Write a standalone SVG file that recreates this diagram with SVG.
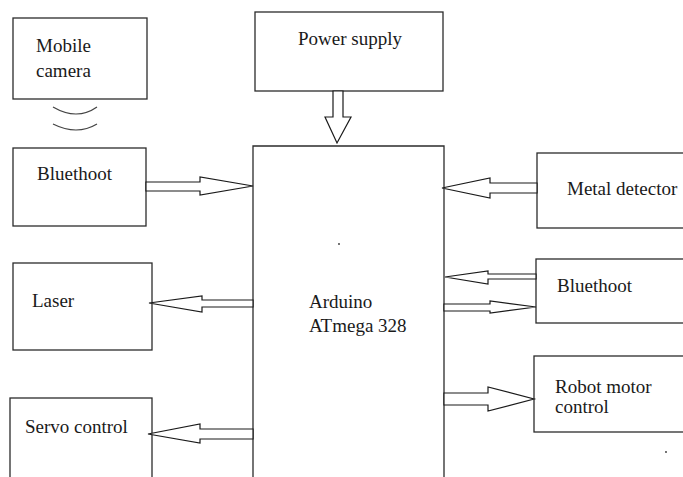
<svg xmlns="http://www.w3.org/2000/svg" width="683" height="477" viewBox="0 0 683 477">
<style>
.box{fill:#fff;stroke:#2b2b2b;stroke-width:1.3}
.t{font-family:'Liberation Serif','Times New Roman',serif;font-size:19px;fill:#1a1a1a}
.arr{fill:#fff;stroke:#1a1a1a;stroke-width:1.2;stroke-linejoin:miter}
.wave{fill:none;stroke:#444;stroke-width:1.2}
</style>
<rect width="683" height="477" fill="#fff"/>
<g id="mobile-camera">
<rect class="box" x="13" y="18" width="134" height="81"/>
<text class="t" x="36" y="52">Mobile</text>
<text class="t" x="36" y="77">camera</text>
</g>
<g id="bluetooth-left">
<rect class="box" x="13" y="148" width="133" height="78"/>
<text class="t" x="37" y="180">Bluethoot</text>
</g>
<g id="power-supply">
<rect class="box" x="255" y="12" width="188" height="79"/>
<text class="t" x="298" y="45">Power supply</text>
</g>
<g id="arduino">
<path class="box" d="M253,490 V146 H444 V490"/>
<text class="t" x="309" y="308">Arduino</text>
<text class="t" x="309" y="332">ATmega 328</text>
<circle cx="339" cy="244" r="0.9" fill="#333"/>
</g>
<g id="metal-detector">
<rect class="box" x="537" y="153" width="170" height="75"/>
<text class="t" x="567" y="195">Metal detector</text>
</g>
<g id="bluetooth-right">
<rect class="box" x="536" y="259" width="170" height="64"/>
<text class="t" x="557" y="292">Bluethoot</text>
</g>
<g id="laser">
<rect class="box" x="13" y="263" width="139" height="87"/>
<text class="t" x="32" y="307">Laser</text>
</g>
<g id="servo-control">
<rect class="box" x="10" y="398" width="142" height="100"/>
<text class="t" x="25" y="433">Servo control</text>
</g>
<g id="robot-motor-control">
<rect class="box" x="534" y="356" width="170" height="76"/>
<text class="t" x="555" y="393">Robot motor</text>
<text class="t" x="555" y="413">control</text>
<circle cx="666" cy="452" r="0.9" fill="#333"/>
</g>
<g id="connectors">
<path class="wave" d="M53,107 Q77,121 97,107"/>
<path class="wave" d="M53,124 Q77,136 97,124"/>
<polygon class="arr" points="146,182 200,182 200,177 253,186 200,195 200,191 146,191"/>
<polygon class="arr" points="333,91 333,117 325,117 337,143 351,117 343,117 343,91"/>
<polygon class="arr" points="537,183 490,183 490,178 442,188 490,198 490,193 537,193"/>
<polygon class="arr" points="536,274 488,274 488,271 445,277 488,284 488,279 536,279"/>
<polygon class="arr" points="444,304 490,304 490,301 536,307 490,313 490,311 444,311"/>
<polygon class="arr" points="253,300 202,300 202,296 149,303 202,312 202,307 253,307"/>
<polygon class="arr" points="253,429 200,429 200,424 148,434 200,443 200,439 253,439"/>
<polygon class="arr" points="444,393 488,393 488,387 534,399 488,411 488,405 444,405"/>
</g>
</svg>
